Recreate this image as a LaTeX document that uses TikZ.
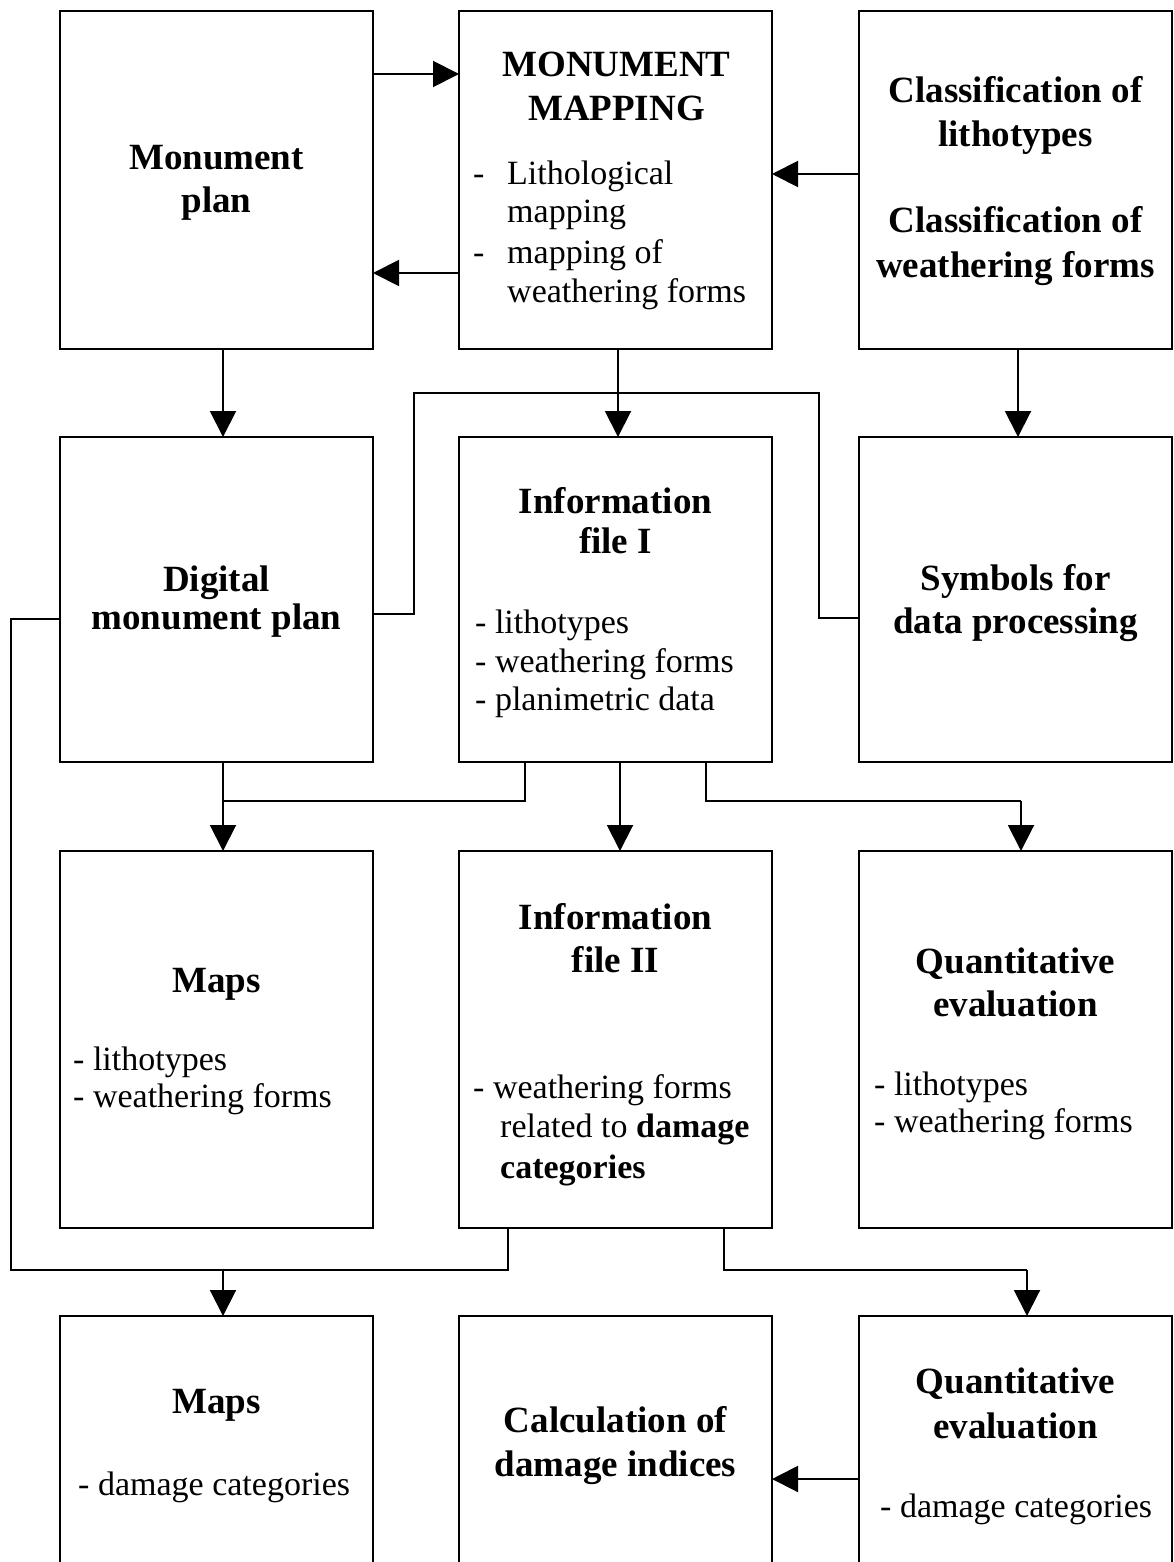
\documentclass[tikz,border=0pt]{standalone}
\usepackage{fontspec}
\setmainfont{Liberation Serif}
\usetikzlibrary{arrows.meta}
\begin{document}
\begin{tikzpicture}[x=1pt,y=-1pt,
  box/.style={draw,line width=2.2pt,minimum width=313pt,inner sep=0pt,outer sep=0pt},
  hd/.style={anchor=base,inner sep=0pt,font=\fontsize{37}{44}\selectfont\bfseries},
  it/.style={anchor=base west,inner sep=0pt,font=\fontsize{34}{39}\selectfont},
  ln/.style={line width=2pt},
  arr/.style={line width=2pt,-{Triangle[length=26pt,width=26pt]}}]
\useasboundingbox (0,0) rectangle (1174,1562);
\clip (0,0) rectangle (1174,1562);
% boxes
\node[box,minimum height=338pt] (mp)  at (216.5,180) {};
\node[box,minimum height=338pt] (mm)  at (615.5,180) {};
\node[box,minimum height=338pt] (cl)  at (1015.5,180) {};
\node[box,minimum height=325pt] (dmp) at (216.5,599.5) {};
\node[box,minimum height=325pt] (if1) at (615.5,599.5) {};
\node[box,minimum height=325pt] (sym) at (1015.5,599.5) {};
\node[box,minimum height=377pt] (maps1) at (216.5,1039.5) {};
\node[box,minimum height=377pt] (if2)   at (615.5,1039.5) {};
\node[box,minimum height=377pt] (qe1)   at (1015.5,1039.5) {};
\node[box,minimum height=284pt] (maps2) at (216.5,1458) {};
\node[box,minimum height=284pt] (calc)  at (615.5,1458) {};
\node[box,minimum height=284pt] (qe2)   at (1015.5,1458) {};
% texts row 1
\node[hd] (mpa) at (216.5,170) {Monument};
\node[hd] (mpb) at (216.5,213) {plan};
\node[hd] (mma) at (616.5,77) {MONUMENT};
\node[hd] (mmb) at (616.5,121) {MAPPING};
\node[it] (mmd1) at (473,185) {-};
\node[it] (mmc) at (507,185) {Lithological};
\node[it] (mmd) at (507,223) {mapping};
\node[it] (mmd2) at (473,263) {-};
\node[it] (mme) at (507,263) {mapping of};
\node[it] (mmf) at (507,302) {weathering forms};
\node[hd] (cla) at (1015.5,103) {Classification of};
\node[hd] (clb) at (1015.5,147) {lithotypes};
\node[hd] (clc) at (1015.5,233) {Classification of};
\node[hd] (cld) at (1015.5,277) {weathering forms};
% texts row 2
\node[hd] (dmpa) at (216.5,591) {Digital};
\node[hd] (dmpb) at (216.5,629) {monument plan};
\node[hd] (if1a) at (615.5,513) {Information};
\node[hd] (if1b) at (615.5,553) {file I};
\node[it] (if1c) at (475,633) {- lithotypes};
\node[it] (if1d) at (475,672) {- weathering forms};
\node[it] (if1e) at (475,710) {- planimetric data};
\node[hd] (syma) at (1015.5,590) {Symbols for};
\node[hd] (symb) at (1015.5,633) {data processing};
% texts row 3
\node[hd] (m1a) at (216.5,992) {Maps};
\node[it] (m1b) at (73,1070) {- lithotypes};
\node[it] (m1c) at (73,1107) {- weathering forms};
\node[hd] (if2a) at (615.5,929) {Information};
\node[hd] (if2b) at (615.5,972) {file II};
\node[it] (if2c) at (473,1098) {- weathering forms};
\node[it] (if2d) at (500,1137) {related to \textbf{damage}};
\node[it] (if2e) at (500,1178) {\textbf{categories}};
\node[hd] (qe1a) at (1015.5,973) {Quantitative};
\node[hd] (qe1b) at (1015.5,1016) {evaluation};
\node[it] (qe1c) at (874,1095) {- lithotypes};
\node[it] (qe1d) at (874,1132) {- weathering forms};
% texts row 4
\node[hd] (m2a) at (216.5,1413) {Maps};
\node[it] (m2b) at (78,1495) {- damage categories};
\node[hd] (cca) at (615.5,1432) {Calculation of};
\node[hd] (ccb) at (615.5,1476) {damage indices};
\node[hd] (qe2a) at (1015.5,1393) {Quantitative};
\node[hd] (qe2b) at (1015.5,1438) {evaluation};
\node[it] (qe2c) at (880,1517) {- damage categories};
% bend coordinates
\coordinate (b1) at (414,393);
\coordinate (b2) at (819,618);
\coordinate (j1) at (223,801);
\coordinate (b3) at (1021,801);
\coordinate (b4) at (11,1270);
\coordinate (j2) at (223,1270);
\coordinate (b5) at (1027,1270);
% connectors
\draw[arr] ([yshift=-63pt]mp.north east) -- ([yshift=-63pt]mm.north west);
\draw[arr] ([yshift=-262pt]mm.north west) -- ([yshift=-262pt]mp.north east);
\draw[arr] ([yshift=-163pt]cl.north west) -- ([yshift=-163pt]mm.north east);
\draw[arr] ([xshift=6.5pt]mp.south) -- ([xshift=6.5pt]dmp.north);
\draw[arr] ([xshift=2.5pt]mm.south) -- ([xshift=2.5pt]if1.north);
\draw[arr] ([xshift=2.5pt]cl.south) -- ([xshift=2.5pt]sym.north);
\draw[ln] ([yshift=-177pt]dmp.north east) -| (b1) -| (b2) -- ([yshift=-181pt]sym.north west);
\draw[arr] ([xshift=6.5pt]dmp.south) -- ([xshift=6.5pt]maps1.north);
\draw[ln] ([xshift=-90.5pt]if1.south) |- (j1);
\draw[arr] ([xshift=4.5pt]if1.south) -- ([xshift=4.5pt]if2.north);
\draw[ln] ([xshift=90.5pt]if1.south) |- (b3);
\draw[arr] (b3) -- ([xshift=5.5pt]qe1.north);
\draw[ln] ([yshift=-182pt]dmp.north west) -| (b4) -| ([xshift=-107.5pt]if2.south);
\draw[arr] (j2) -- ([xshift=6.5pt]maps2.north);
\draw[ln] ([xshift=108.5pt]if2.south) |- (b5);
\draw[arr] (b5) -- ([xshift=11.5pt]qe2.north);
\draw[arr] ([yshift=-163pt]qe2.north west) -- ([yshift=-163pt]calc.north east);
\end{tikzpicture}
\end{document}
